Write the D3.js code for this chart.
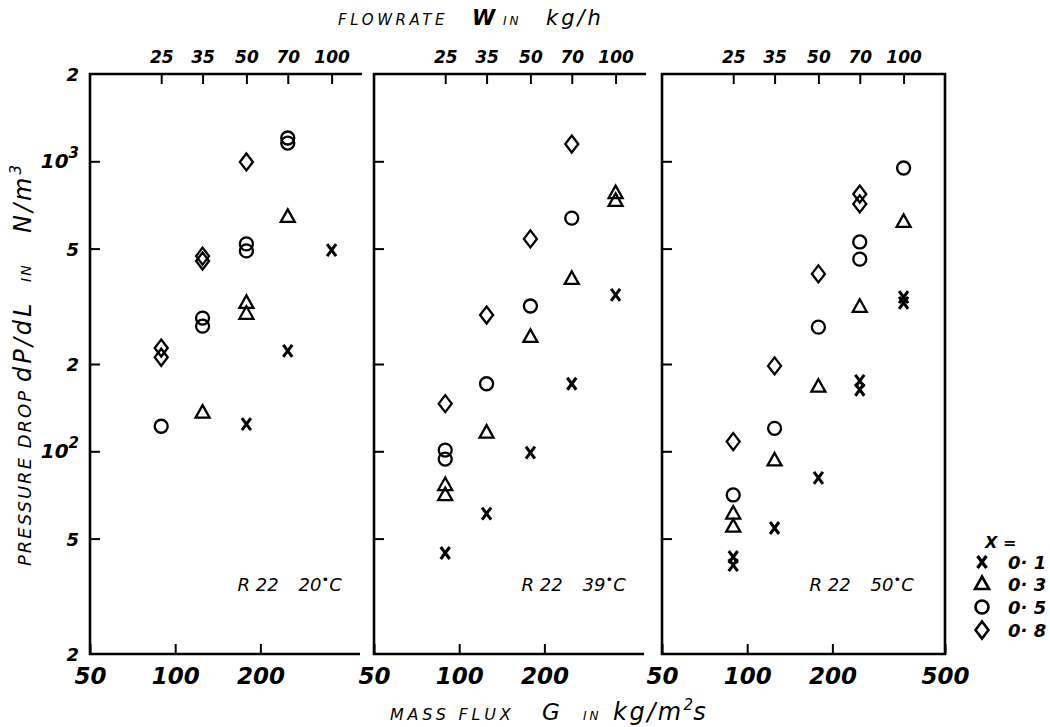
<!DOCTYPE html>
<html>
<head>
<meta charset="utf-8">
<script src="https://cdn.jsdelivr.net/npm/d3@7"></script>
<style>
  body { margin: 0; background: #fff; }
  text { font-family: "DejaVu Sans", sans-serif; font-style: italic; fill: #000; }
</style>
</head>
<body>
<svg width="1050" height="727"></svg>
<script>
var svg = d3.select("svg");

// ---- data ----
var flowTicks = [25, 35, 50, 70, 100];              // W in kg/h, top axis
var massTicks = [[50, 100, 200], [50, 100, 200], [50, 100, 200, 500]];
var pdTicks = [20, 50, 100, 200, 500, 1000, 2000];
var pdTickLabels = ["2", "5", "10|2", "2", "5", "10|3", "2"];
var qualities = ["0· 1", "0· 3", "0· 5", "0· 8"];
var panelFluid = ["R 22", "R 22", "R 22"];
var panelTemps = ["20", "39", "50"];
var panelGmax = [450, 450, 500];
var G_PER_W = 3.57;   // G (kg/m2s) for 1 kg/h

// [W kg/h, dP/dL N/m3]
// R22 20 C
var t20_x1 = [[50, 124], [70, 222], [100, 494]];
var t20_x3 = [[35, 136], [50, 298], [50, 325], [70, 643]];
var t20_x5 = [[25, 122], [35, 270], [35, 288], [50, 491], [50, 519], [70, 1156], [70, 1203]];
var t20_x8 = [[25, 211], [25, 227], [35, 453], [35, 471], [50, 995]];
// R22 39 C
var t39_x1 = [[25, 44.6], [35, 61], [50, 99], [70, 171], [100, 346]];
var t39_x3 = [[25, 70.6], [25, 76.5], [35, 116], [50, 248], [70, 393], [100, 730], [100, 777]];
var t39_x5 = [[25, 94], [25, 101], [35, 171], [50, 317], [70, 637]];
var t39_x8 = [[25, 146], [35, 295], [50, 540], [70, 1147]];
// R22 50 C
var t50_x1 = [[25, 40.5], [25, 43.2], [35, 54.4], [50, 81], [70, 163], [70, 175], [100, 325], [100, 340]];
var t50_x3 = [[25, 55], [25, 61], [35, 93], [50, 167], [70, 315], [100, 618]];
var t50_x5 = [[25, 70.7], [35, 120], [50, 268], [70, 460], [70, 527], [100, 948]];
var t50_x8 = [[25, 108], [35, 197], [50, 409], [70, 713], [70, 771]];

var panelData = [
  [t20_x1, t20_x3, t20_x5, t20_x8],
  [t39_x1, t39_x3, t39_x5, t39_x8],
  [t50_x1, t50_x3, t50_x5, t50_x8]
];

// ---- layout ----
var DEC = 283, yTop = 74, yBot = 654;
var panelLeft = [90, 374, 662];

var y = d3.scaleLog().domain([20, 2000]).range([yBot, yTop]);

// marker shapes: x, triangle, circle, diamond
var shapes = [
  "M-4.5,-6L4.5,6M4.5,-6L-4.5,6",
  "M0,-7.5L7,5L-7,5Z",
  d3.symbol(d3.symbolCircle, Math.PI * 6.5 * 6.5)(),
  "M0,-8.5L6.5,0L0,8.5L-6.5,0Z"
];
var shapeWidth = [3, 2.3, 2.3, 2.3];

function styleAxis(a, size) {
  a.select(".domain").remove();
  a.selectAll(".tick line").attr("stroke", "#000").attr("stroke-width", 2);
  a.selectAll(".tick text").attr("fill", "#000")
    .style("font-size", size + "px").style("font-weight", "bold")
    .style("font-family", "'DejaVu Sans', sans-serif").style("font-style", "italic");
}

panelData.forEach(function(series, i) {
  var x0 = panelLeft[i];
  var x1 = x0 + DEC * Math.log10(panelGmax[i] / 50);
  var x = d3.scaleLog().domain([50, panelGmax[i]]).range([x0, x1]);
  var w = d3.scaleLog().domain([50 / G_PER_W, panelGmax[i] / G_PER_W]).range([x0, x1]);
  var g = svg.append("g");

  // frame (no right edge on the first two panels)
  var d = i == 2
    ? "M" + x0 + "," + yTop + "H" + x1 + "V" + yBot + "H" + x0 + "Z"
    : "M" + (x1 + 2) + "," + yTop + "H" + x0 + "V" + yBot + "H" + x1;
  g.append("path").attr("d", d).attr("fill", "none")
    .attr("stroke", "#000").attr("stroke-width", 2.6);

  g.append("g").attr("transform", "translate(0," + yTop + ")")
    .call(d3.axisTop(w).tickValues(flowTicks).tickSize(-10).tickPadding(11).tickFormat(d3.format("d")))
    .call(styleAxis, 17);

  g.append("g").attr("transform", "translate(0," + yBot + ")")
    .call(d3.axisBottom(x).tickValues(massTicks[i]).tickSize(-10).tickPadding(14).tickFormat(d3.format("d")))
    .call(styleAxis, 23);

  g.append("g").attr("transform", "translate(" + x0 + ",0)")
    .call(d3.axisLeft(y).tickValues([50, 100, 200, 500, 1000]).tickSize(-10).tickFormat(""))
    .call(styleAxis, 17);

  // points
  series.forEach(function(pts, j) {
    g.append("g").selectAll("path").data(pts).join("path")
      .attr("transform", function(p) { return "translate(" + w(p[0]) + "," + y(p[1]) + ")"; })
      .attr("d", shapes[j])
      .attr("fill", "none").attr("stroke", "#000").attr("stroke-width", shapeWidth[j]);
  });

  // panel label
  var lab = g.append("text").attr("x", x(166)).attr("y", 591).style("font-size", "18px");
  lab.append("tspan").text(panelFluid[i]);
  lab.append("tspan").attr("dx", 20).text(panelTemps[i]);
  lab.append("tspan").attr("dy", -7).style("font-size", "13px").text("•");
  lab.append("tspan").attr("dy", 7).text("C");
});

// y tick labels on the left
var yl = svg.append("g").selectAll("text").data(pdTicks).join("text")
  .attr("x", 79).attr("y", function(v) { return y(v) + 7; })
  .attr("text-anchor", "end").style("font-weight", "bold");
yl.each(function(v, k) {
  var parts = pdTickLabels[k].split("|");
  var t = d3.select(this);
  if (parts.length == 1) {
    t.style("font-size", "18px").text(parts[0]);
  } else {
    t.style("font-size", "20px");
    t.append("tspan").text(parts[0]);
    t.append("tspan").attr("dy", -10).style("font-size", "15px").text(parts[1]);
  }
});

// axis titles
var topTitle = svg.append("text").attr("y", 25);
topTitle.append("tspan").attr("x", 338).style("font-size", "15px").style("letter-spacing", "3.6px").text("FLOWRATE");
topTitle.append("tspan").attr("x", 472).style("font-size", "21px").style("font-weight", "bold").text("W");
topTitle.append("tspan").attr("x", 503).style("font-size", "12px").style("letter-spacing", "3px").text("IN");
topTitle.append("tspan").attr("x", 546).style("font-size", "21px").style("letter-spacing", "3px").text("kg/h");

var botTitle = svg.append("text").attr("y", 720);
botTitle.append("tspan").attr("x", 390).style("font-size", "16px").style("letter-spacing", "3.8px").text("MASS FLUX");
botTitle.append("tspan").attr("x", 542).style("font-size", "23px").text("G");
botTitle.append("tspan").attr("x", 583).style("font-size", "12px").style("letter-spacing", "3px").text("IN");
botTitle.append("tspan").attr("x", 613).style("font-size", "24px").style("letter-spacing", "2.5px").text("kg/m");
botTitle.append("tspan").attr("dy", -10).style("font-size", "15px").text("2");
botTitle.append("tspan").attr("dy", 10).style("font-size", "24px").text("s");

var yTitle = svg.append("text").attr("transform", "translate(31,566) rotate(-90)");
yTitle.append("tspan").attr("x", 0).style("font-size", "18px").style("letter-spacing", "2px").text("PRESSURE DROP");
yTitle.append("tspan").attr("x", 184).style("font-size", "24px").style("letter-spacing", "3px").text("dP/dL");
yTitle.append("tspan").attr("x", 284).style("font-size", "14px").style("letter-spacing", "2px").text("IN");
yTitle.append("tspan").attr("x", 333).style("font-size", "24px").style("letter-spacing", "3px").text("N/m");
yTitle.append("tspan").attr("dy", -10).style("font-size", "15px").text("3");

// legend
var leg = svg.append("g");
leg.append("text").attr("x", 985).attr("y", 548).style("font-size", "16px").style("font-weight", "bold").text("X =");
var rowY = [562, 584, 607, 630];
qualities.forEach(function(q, j) {
  leg.append("path").attr("transform", "translate(982," + rowY[j] + ")")
    .attr("d", shapes[j]).attr("fill", "none").attr("stroke", "#000").attr("stroke-width", shapeWidth[j] + 0.3);
  leg.append("text").attr("x", 1008).attr("y", rowY[j] + 7)
    .style("font-size", "18px").style("font-weight", "bold").text(q);
});
</script>
</body>
</html>
